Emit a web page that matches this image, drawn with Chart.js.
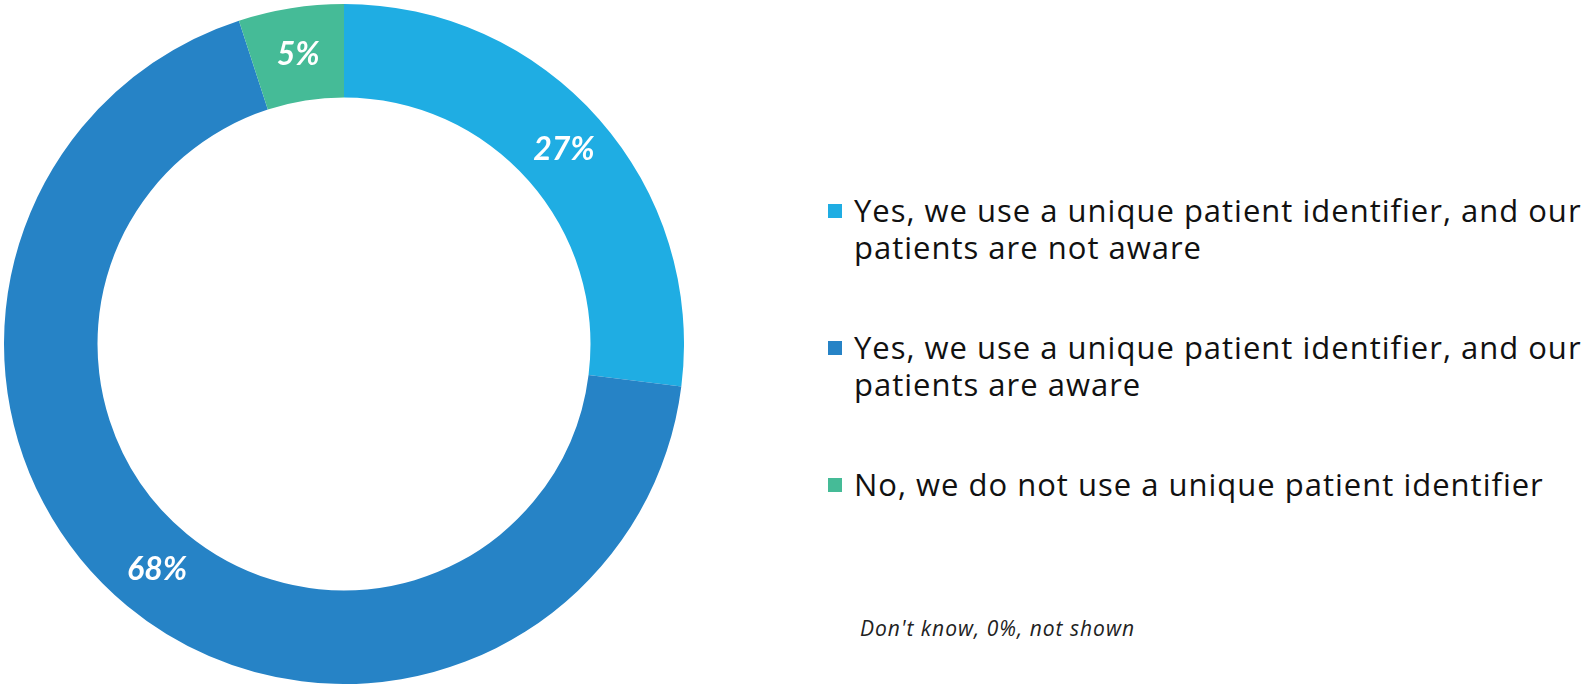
<!DOCTYPE html>
<html>
<head>
<meta charset="utf-8">
<script src="https://cdn.jsdelivr.net/npm/chart.js@4.4.1/dist/chart.umd.min.js"></script>
<style>
  html,body{margin:0;padding:0;background:#fff;width:1585px;height:684px;overflow:hidden;font-family:'Open Sans',sans-serif}
  #wrap{position:absolute;left:4px;top:4px;width:680px;height:680px}
  #legend{position:absolute;left:828px;top:0;width:760px}
  .item{position:absolute;left:0;display:flex;align-items:flex-start;color:#111;font-size:31px;line-height:37px;letter-spacing:1px;white-space:nowrap}
  .box{width:14px;height:14px;margin-top:12px;margin-right:12px;flex:none}
  #note{position:absolute;left:860px;top:614px;font-size:21px;font-style:italic;color:#222;letter-spacing:1px;white-space:nowrap}
</style>
</head>
<body>
<div id="wrap"><canvas id="donut"></canvas></div>
<div id="legend"></div>
<div id="note">Don't know, 0%, not shown</div>
<script>
const labels = [
  'Yes, we use a unique patient identifier, and our patients are not aware',
  'Yes, we use a unique patient identifier, and our patients are aware',
  'No, we do not use a unique patient identifier'
]
const values = [27, 68, 5]
const colors = ['#1FADE3', '#2683C6', '#45BB97']
const legendTops = [192, 329, 466]

// white percentage labels at the middle of each ring segment
const sliceLabels = {
  id: 'sliceLabels',
  afterDatasetsDraw(chart) {
    const ctx = chart.ctx
    const meta = chart.getDatasetMeta(0)
    ctx.save()
    ctx.fillStyle = '#fff'
    ctx.font = 'italic bold 32px Lato'
    ctx.textAlign = 'center'
    ctx.textBaseline = 'middle'
    meta.data.forEach((arc, i) => {
      const p = arc.tooltipPosition()
      ctx.fillText(values[i] + '%', p.x, p.y)
    })
    ctx.restore()
  }
}

new Chart(document.getElementById('donut'), {
  type: 'doughnut',
  data: {
    labels: labels,
    datasets: [{ data: values, backgroundColor: colors, borderWidth: 0 }]
  },
  options: {
    responsive: true, maintainAspectRatio: false, animation: false,
    cutout: '72.5%',
    layout: { padding: 0 },
    plugins: { legend: { display: false }, tooltip: { enabled: false } }
  },
  plugins: [sliceLabels]
})

const legend = document.getElementById('legend')
labels.forEach((t, i) => {
  const el = document.createElement('div')
  el.className = 'item'
  el.style.top = legendTops[i] + 'px'
  el.innerHTML = `<div class="box" style="background:${colors[i]}"></div><div>${t.replace(', and our ', ', and our<br>')}</div>`
  legend.appendChild(el)
})
</script>
</body>
</html>
